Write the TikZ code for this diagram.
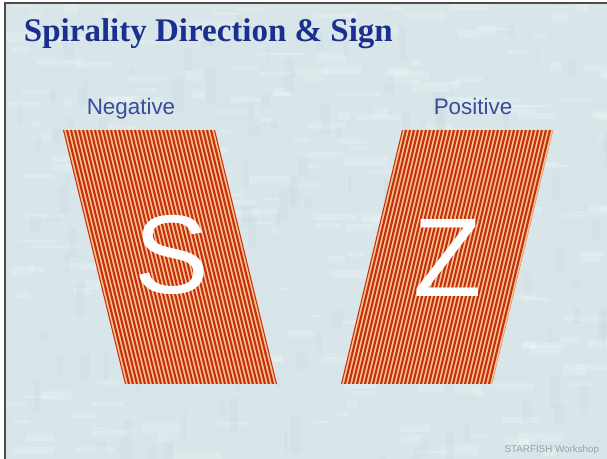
\documentclass[tikz,border=0pt]{standalone}
\usepackage{fontspec}
\setmainfont{Liberation Serif}
\setsansfont{Liberation Sans}
\usetikzlibrary{positioning}

\definecolor{slidebg}{HTML}{D8E6EA}
\definecolor{mottle}{HTML}{C4D6DB}
\definecolor{titleblue}{HTML}{1B2F8E}
\definecolor{labelblue}{HTML}{3B4A9C}
\definecolor{stripedark}{HTML}{C42F14}
\definecolor{stripelight}{HTML}{F8C48A}

\begin{document}
\begin{tikzpicture}[x=0.5pt, y=-0.5pt,
    every node/.style={inner sep=0pt, outer sep=0pt},
    heading/.style={font=\fontsize{16.5}{18}\selectfont\bfseries, text=titleblue},
    signlabel/.style={font=\sffamily\fontsize{11.2}{13}\selectfont, text=labelblue},
    bigletter/.style={font=\sffamily\fontsize{56}{60}\selectfont, text=white},
    stripe/.style={stripedark, line width=1.05pt},
    credit/.style={font=\sffamily\fontsize{4.9}{6}\selectfont, text=gray!75}
]
\useasboundingbox (0,0) rectangle (607,459);

% Slide background and frame
\fill[white] (0,0) rectangle (607,459);
\fill[slidebg] (5,3) rectangle (607,459);
\pgfmathsetseed{11}
\begin{scope}
  \clip (5,3) rectangle (607,459);
  \foreach \i in {1,...,260} {
    \pgfmathsetmacro{\px}{5+602*rnd}
    \pgfmathsetmacro{\py}{3+456*rnd}
    \pgfmathsetmacro{\pw}{8+40*rnd}
    \pgfmathsetmacro{\ph}{2+8*rnd}
    \fill[white, opacity=0.18] (\px,\py) rectangle ++(\pw,\ph);
  }
  \foreach \i in {1,...,140} {
    \pgfmathsetmacro{\px}{5+602*rnd}
    \pgfmathsetmacro{\py}{3+456*rnd}
    \pgfmathsetmacro{\pw}{3+8*rnd}
    \pgfmathsetmacro{\ph}{6+30*rnd}
    \fill[mottle, opacity=0.2] (\px,\py) rectangle ++(\pw,\ph);
  }
\end{scope}
\draw[black!70, line width=0.8pt] (5,459) -- (5,3) -- (607,3);

% Shape edges
\def\ytop{130}
\def\ybot{384}

% Negative: slanted band, stripes leaning right
\begin{scope}
  \clip (63,\ytop) -- (215,\ytop) -- (277,\ybot) -- (125,\ybot) -- cycle;
  \fill[stripelight] (40,\ytop) rectangle (300,\ybot);
  \foreach \x in {63,67,...,215}
    \draw[stripe] (\x,\ytop) -- ++(62,254);
\end{scope}

% Positive: slanted band, stripes leaning left
\begin{scope}
  \clip (402,\ytop) -- (553,\ytop) -- (492,\ybot) -- (341,\ybot) -- cycle;
  \fill[stripelight] (330,\ytop) rectangle (570,\ybot);
  \foreach \x in {402,406,...,554}
    \draw[stripe] (\x,\ytop) -- ++(-61,254);
\end{scope}

% Texts
\node[heading, anchor=base west] (title) at (24,42) {Spirality Direction \& Sign};
\node[signlabel, anchor=base] (neglabel) at (131,115) {Negative};
\node[signlabel, anchor=base] (poslabel) at (473,115) {Positive};
\node[bigletter, anchor=base] (sletter) at (172,294) {S};
\node[bigletter, anchor=base] (zletter) at (448,297) {Z};
\node[credit, anchor=base east] (footer) at (599,453) {STARFISH Workshop};

\end{tikzpicture}
\end{document}
